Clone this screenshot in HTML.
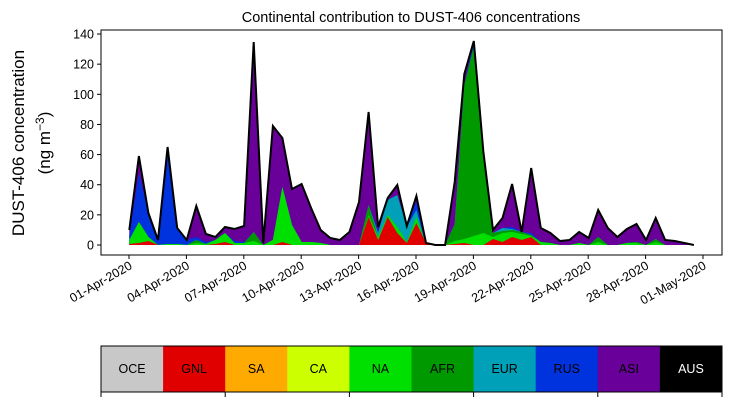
<!DOCTYPE html>
<html><head><meta charset="utf-8"><style>
body{margin:0;background:#fff;width:730px;height:402px;overflow:hidden}
text{font-family:"Liberation Sans","DejaVu Sans",sans-serif}
</style></head><body>
<svg id="s" width="730" height="402" xmlns="http://www.w3.org/2000/svg">
<text x="411" y="22" font-size="14.5" text-anchor="middle">Continental contribution to DUST-406 concentrations</text>
<text transform="translate(24,143) rotate(-90)" font-size="17" text-anchor="middle">DUST-406 concentration</text>
<text transform="translate(50,143) rotate(-90)" font-size="17" text-anchor="middle">(ng m<tspan dy="-6" font-size="12">−3</tspan><tspan dy="6">)</tspan></text>
<g id="plot"></g>
<rect x="101" y="30" width="621" height="225" fill="none" stroke="#000" stroke-width="1"/>
<g id="ax" font-size="12.5"></g>
<g id="leg" font-size="12.5"></g>
</svg>
<script>
var T=[15,89,32,5,98,17,5,39,11,8,18,16,19,203,2,119,107,56,61,37,15,7,5,13,43,133,18,47,60,19,49,2,0,0,63,171,204,93,15,27,61,13,77,17,12,4,5,13,7,35,17,8,16,21,5,27,5,4,2,0];
var R=new Array(60).fill(0);
[[0,1],[1,2],[2,4],[9,1],[10,3],[16,3],[25,28],[26,5],[27,28],[28,12],[29,2],[30,22],[31,2],[34,1],[35,2],[38,6],[39,3],[40,8],[41,5],[42,8]].forEach(function(a){R[a[0]]=a[1]});
var N=new Array(60).fill(0);
[[0,5],[1,23],[2,8],[4,1],[5,1],[7,2],[8,1],[9,5],[10,12],[11,2],[12,2],[13,4],[15,5],[16,58],[17,20],[18,3],[19,3],[20,2],[25,30],[26,8],[27,30],[28,18],[29,3],[30,28],[34,4],[35,6],[36,9],[37,12],[38,8],[39,12],[40,13],[41,11],[42,9],[43,3],[44,2],[47,2],[49,3],[52,2],[53,2],[55,3]].forEach(function(a){N[a[0]]=a[1]});
var A=N.slice();
[[7,5],[13,13],[25,40],[34,21],[35,160],[36,198],[37,88],[38,12],[39,14],[40,15],[41,13],[42,10],[49,8],[55,6],[53,3]].forEach(function(a){A[a[0]]=a[1]});
var E=A.slice();
[[26,12],[27,45],[28,50],[29,18],[30,35],[39,17],[40,16]].forEach(function(a){E[a[0]]=a[1]});
var U=E.slice();
[[0,10],[1,72],[2,32],[3,5],[4,98],[5,17],[6,5],[7,8],[8,3],[9,5],[10,12],[11,4],[12,3],[26,14],[29,20],[30,44],[36,203],[37,92],[40,18],[41,14],[42,12]].forEach(function(a){U[a[0]]=Math.max(U[a[0]],a[1])});
function X(i){return 129.3+9.57*i}
function poly(arr,col){var p=[];for(var i=0;i<60;i++){var v=Math.min(arr[i],T[i]);p.push(X(i).toFixed(1)+","+(245-v).toFixed(1))}
p.push(X(59)+",245");p.push(X(0)+",245");return '<polygon points="'+p.join(" ")+'" fill="'+col+'"/>'}
var h=poly(T,"#6a009a")+poly(U,"#0033dd")+poly(E,"#00a0b8")+poly(A,"#009a00")+poly(N,"#00e000")+poly(R,"#e00000");
var l=[];for(var i=0;i<60;i++)l.push(X(i).toFixed(1)+","+(245-T[i]).toFixed(1));
h+='<polyline points="'+l.join(" ")+'" fill="none" stroke="#000" stroke-width="2" stroke-linejoin="miter"/>';
document.getElementById("plot").innerHTML=h;
var a="";
for(var v=0;v<=140;v+=20){var y=245-v*1.507;a+='<line x1="97" x2="101" y1="'+y+'" y2="'+y+'" stroke="#000"/><text x="94" y="'+(y+4.5)+'" text-anchor="end">'+v+'</text>'}
var d=["01-Apr-2020","04-Apr-2020","07-Apr-2020","10-Apr-2020","13-Apr-2020","16-Apr-2020","19-Apr-2020","22-Apr-2020","25-Apr-2020","28-Apr-2020","01-May-2020"];
for(var k=0;k<11;k++){var x=129+57.4*k;a+='<line x1="'+x+'" x2="'+x+'" y1="255" y2="259" stroke="#000"/><text transform="translate('+(x+4)+',268) rotate(-30)" text-anchor="end">'+d[k]+'</text>'}
document.getElementById("ax").innerHTML=a;
var n=["OCE","GNL","SA","CA","NA","AFR","EUR","RUS","ASI","AUS"],c=["#c8c8c8","#e00000","#ffaa00","#ccff00","#00e000","#009a00","#00a0b8","#0033dd","#6a009a","#000000"];
var g="",w=62.1;
for(var k=0;k<10;k++){g+='<rect x="'+(101+k*w)+'" y="346" width="'+(w+0.5)+'" height="46" fill="'+c[k]+'"/><text x="'+(101+k*w+w/2)+'" y="373" text-anchor="middle" fill="'+(k==9?"#fff":"#000")+'">'+n[k]+'</text>'}
g+='<rect x="101" y="346" width="621" height="46" fill="none" stroke="#000"/>';
for(var k=0;k<=10;k+=2){var x=101+k*w;g+='<line x1="'+x+'" x2="'+x+'" y1="392" y2="397" stroke="#000"/>'}
document.getElementById("leg").innerHTML=g;
</script>
</body></html>
